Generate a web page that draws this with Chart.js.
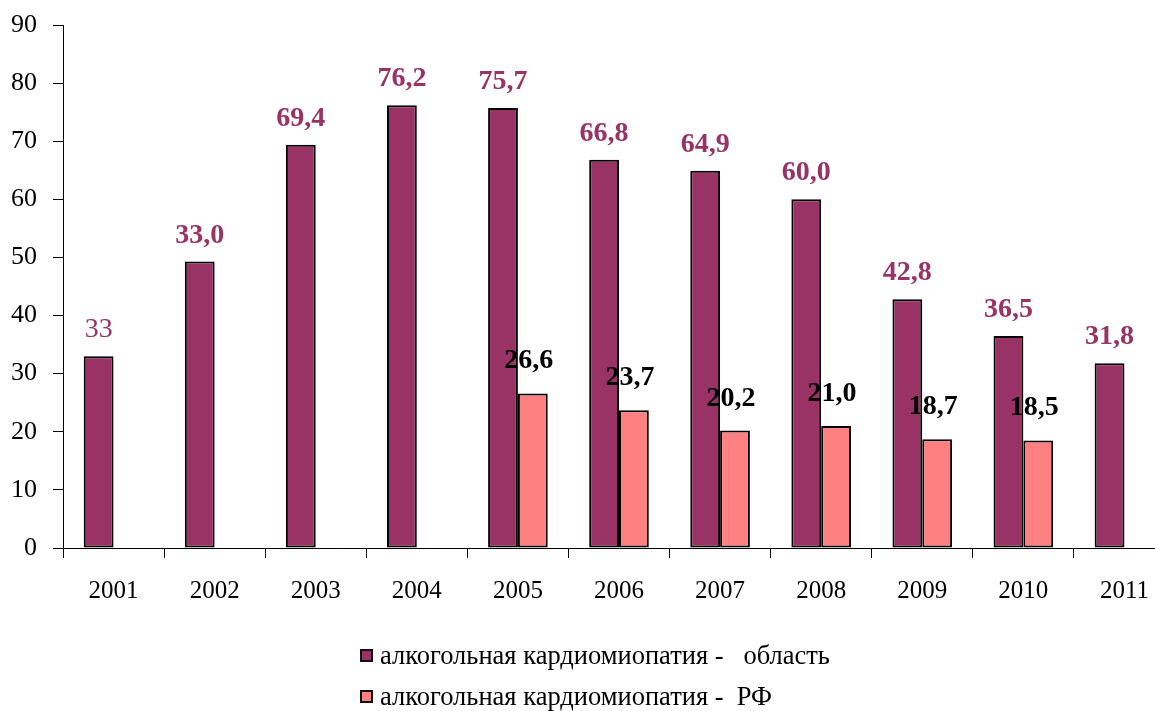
<!DOCTYPE html>
<html>
<head>
<meta charset="utf-8">
<script src="https://cdn.jsdelivr.net/npm/chart.js@4.4.1/dist/chart.umd.min.js"></script>
<style>
  html, body { margin:0; padding:0; background:#fff; overflow:hidden; width:1155px; height:711px; }
  #wrap { position:absolute; left:0; top:0; width:1180px; height:711px; }
  #legend { position:absolute; left:360px; top:635px; font-family:'Liberation Serif','Times New Roman',serif; font-size:26.5px; color:#000; }
  .item { display:flex; align-items:center; height:41px; white-space:pre; }
  .box { width:13px; height:13px; border:2px solid #111; margin-right:7px; box-sizing:border-box; flex:none; }
</style>
</head>
<body>
<div id="wrap"><canvas id="c" width="1180" height="711"></canvas></div>
<div id="legend"></div>
<script>
// ---- data ----
const years = ['2001','2002','2003','2004','2005','2006','2007','2008','2009','2010','2011'];
const oblastValues = [33.0, 49.3, 69.4, 76.2, 75.7, 66.8, 64.9, 60.0, 42.8, 36.5, 31.8];
const oblastLabels = ['33','33,0','69,4','76,2','75,7','66,8','64,9','60,0','42,8','36,5','31,8'];
const rfValues = [null, null, null, null, 26.6, 23.7, 20.2, 21.0, 18.7, 18.5, null];
const rfLabels = ['', '', '', '', '26,6', '23,7', '20,2', '21,0', '18,7', '18,5', ''];
const seriesNames = ['алкогольная кардиомиопатия -   область', 'алкогольная кардиомиопатия -  РФ'];
const yTicks = [0, 10, 20, 30, 40, 50, 60, 70, 80, 90];

const SERIF = "'Liberation Serif','Times New Roman',serif";
const colors = ['#993366', '#FF8080'];

// desired plot-area frame (layout only)
const AREA = { top: 25, bottom: 548, left: 63, right: 1175 };

const valueLabelPlugin = {
  id: 'valueLabels',
  afterDatasetsDraw(chart) {
    const ctx = chart.ctx;
    const sets = [
      { labels: oblastLabels, color: '#993366', offset: 19, dx: 0 },
      { labels: rfLabels, color: '#000000', offset: 25, dx: -4 }
    ];
    ctx.save();
    ctx.textAlign = 'center';
    ctx.textBaseline = 'alphabetic';
    sets.forEach((s, di) => {
      const meta = chart.getDatasetMeta(di);
      meta.data.forEach((el, i) => {
        const v = chart.data.datasets[di].data[i];
        if (v === null || v === undefined || !s.labels[i]) return;
        const weight = (di === 0 && i === 0) ? 'normal' : 'bold';
        ctx.font = weight + ' 28px ' + SERIF;
        ctx.fillStyle = s.color;
        ctx.fillText(s.labels[i], el.x + s.dx, el.y - s.offset);
      });
    });
    ctx.restore();
  }
};

const chart = new Chart(document.getElementById('c'), {
  type: 'bar',
  data: {
    labels: years,
    datasets: [
      { label: seriesNames[0], data: oblastValues, backgroundColor: colors[0], borderColor: '#000', borderWidth: 2, borderSkipped: false,
        categoryPercentage: 0.59, barPercentage: 1.0 },
      { label: seriesNames[1], data: rfValues, backgroundColor: colors[1], borderColor: '#000', borderWidth: 2, borderSkipped: false,
        categoryPercentage: 0.59, barPercentage: 1.0 }
    ]
  },
  options: {
    responsive: false,
    animation: false,
    devicePixelRatio: 1,
    layout: { padding: { top: 25, right: 5, bottom: 103, left: 0 } },
    plugins: { legend: { display: false }, tooltip: { enabled: false } },
    scales: {
      x: {
        grid: { offset: true, drawOnChartArea: false, drawTicks: true, tickLength: 10, color: '#000', lineWidth: 1 },
        border: { color: '#000', width: 1 },
        ticks: { font: { family: SERIF, size: 25 }, color: '#000', padding: 18, maxRotation: 0, autoSkip: false },
        afterFit: s => { s.height = 60; s.paddingLeft = 0; s.paddingRight = 0; }
      },
      y: {
        min: 0, max: 90,
        afterBuildTicks: s => { s.ticks = yTicks.map(v => ({ value: v })); },
        grid: { drawOnChartArea: false, drawTicks: true, tickLength: 10, color: '#000', lineWidth: 1 },
        border: { color: '#000', width: 1 },
        ticks: { font: { family: SERIF, size: 26 }, color: '#000', padding: 16 },
        afterFit: s => { s.width = 63; s.paddingTop = 0; s.paddingBottom = 0; }
      }
    }
  },
  plugins: [valueLabelPlugin]
});

// nudge layout padding so the plot frame lands where the reference has it
for (let k = 0; k < 3; k++) {
  const ca = chart.chartArea;
  const p = chart.options.layout.padding;
  p.top = Math.max(0, p.top + (AREA.top - ca.top));
  p.bottom = Math.max(0, p.bottom + (ca.bottom - AREA.bottom));
  p.left = Math.max(0, p.left + (AREA.left - ca.left));
  p.right = Math.max(0, p.right + (ca.right - AREA.right));
  chart.update();
}

// HTML legend built from series names
const lg = document.getElementById('legend');
seriesNames.forEach((n, i) => {
  const it = document.createElement('div'); it.className = 'item';
  const b = document.createElement('span'); b.className = 'box'; b.style.background = colors[i];
  const t = document.createElement('span'); t.textContent = n;
  it.appendChild(b); it.appendChild(t); lg.appendChild(it);
});
</script>
</body>
</html>
